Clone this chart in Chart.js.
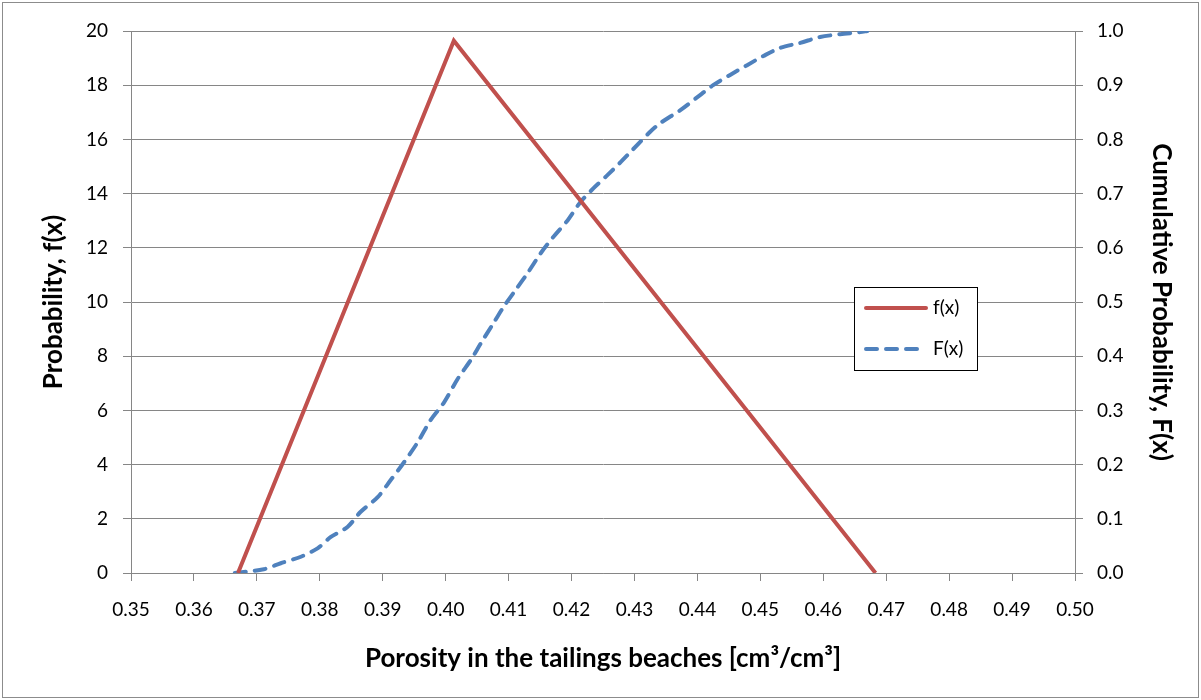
<!DOCTYPE html>
<html>
<head>
<meta charset="utf-8">
<script src="https://cdn.jsdelivr.net/npm/chart.js@4"></script>
<style>
  body { margin: 0; background: #fff; }
  #wrap { width: 1201px; height: 700px; }
</style>
</head>
<body>
<div id="wrap"><canvas id="myChart" width="1201" height="700"></canvas></div>
<script>
// values
const pdfX = [0.3670, 0.4013, 0.4683];
const pdfY = [0, 19.64, 0];

const cdfX = [0.3665, 0.3711, 0.3738, 0.3770, 0.3797, 0.3817, 0.3844, 0.3865, 0.3892, 0.3913,
  0.3933, 0.3956, 0.3976, 0.3997, 0.4019, 0.4040, 0.4056, 0.4076, 0.4092, 0.4111,
  0.4130, 0.4151, 0.4171, 0.4194, 0.4214, 0.4235, 0.4257, 0.4278, 0.4298, 0.4325,
  0.4341, 0.4373, 0.4400, 0.4425, 0.4452, 0.4479, 0.4505, 0.4532, 0.4563, 0.4595,
  0.4627, 0.4659, 0.4670];
const cdfY = [0, 0.007, 0.018, 0.030, 0.046, 0.066, 0.085, 0.113, 0.140, 0.172,
  0.203, 0.242, 0.282, 0.314, 0.358, 0.393, 0.424, 0.461, 0.491, 0.522,
  0.553, 0.590, 0.620, 0.651, 0.684, 0.710, 0.734, 0.758, 0.782, 0.814,
  0.830, 0.854, 0.878, 0.900, 0.919, 0.937, 0.954, 0.969, 0.978, 0.989,
  0.994, 0.998, 1.000];

const seriesNames = ['f(x)', 'F(x)'];
const xTitle = 'Porosity in the tailings beaches [cm\u00B3/cm\u00B3]';
const yTitle = 'Probability, f(x)';
const y1Title = 'Cumulative Probability, F(x)';

const RED = '#C0504D';
const BLUE = '#4F81BD';
const GRID = '#868686';
const FONT = 'Lato, "Open Sans", sans-serif';

const toPts = (xs, ys) => xs.map((x, i) => ({ x: x, y: ys[i] }));

// outer frame + legend box
const extras = {
  id: 'extras',
  afterDraw(chart) {
    const ctx = chart.ctx;
    ctx.save();
    ctx.strokeStyle = '#8c8c8c';
    ctx.lineWidth = 1;
    ctx.strokeRect(2.5, 2.5, chart.width - 5, chart.height - 5);

    // legend
    const lx = 854.5, ly = 287.5, lw = 123, lh = 83;
    ctx.fillStyle = '#fff';
    ctx.fillRect(lx, ly, lw, lh);
    ctx.strokeStyle = '#000';
    ctx.strokeRect(lx, ly, lw, lh);
    ctx.lineWidth = 4;
    ctx.lineCap = 'round';
    ctx.strokeStyle = RED;
    ctx.beginPath(); ctx.moveTo(866, 308); ctx.lineTo(926, 308); ctx.stroke();
    ctx.strokeStyle = BLUE;
    ctx.setLineDash([11, 9]);
    ctx.beginPath(); ctx.moveTo(866, 349); ctx.lineTo(921, 349); ctx.stroke();
    ctx.setLineDash([]);
    ctx.fillStyle = '#000';
    ctx.font = '19px ' + FONT;
    ctx.textBaseline = 'middle';
    ctx.fillText(seriesNames[0], 933, 308);
    ctx.fillText(seriesNames[1], 933, 349);
    ctx.restore();
  }
};

const ctx = document.getElementById('myChart');

new Chart(ctx, {
  type: 'scatter',
  data: {
    datasets: [{
      label: seriesNames[0],
      data: toPts(pdfX, pdfY),
      yAxisID: 'y',
      showLine: true,
      borderColor: RED,
      borderWidth: 4,
      pointRadius: 0,
      tension: 0
    }, {
      label: seriesNames[1],
      data: toPts(cdfX, cdfY),
      yAxisID: 'y1',
      showLine: true,
      borderColor: BLUE,
      borderWidth: 4,
      borderDash: [11, 9],
      borderCapStyle: 'round',
      pointRadius: 0,
      tension: 0.3
    }]
  },
  options: {
    responsive: false,
    animation: false,
    layout: { padding: { top: 31, left: 0, right: 0, bottom: 0 } },
    plugins: {
      legend: { display: false },
      tooltip: { enabled: false }
    },
    scales: {
      x: {
        type: 'linear',
        min: 0.35,
        max: 0.50,
        afterFit(s) { s.height = 127; },
        ticks: {
          stepSize: 0.01,
          color: '#000',
          font: { family: FONT, size: 19 },
          padding: 17,
          maxRotation: 0,
          autoSkip: false,
          callback: v => v.toFixed(2)
        },
        grid: { drawOnChartArea: false, drawTicks: true, tickLength: 8, color: GRID },
        border: { color: GRID },
        title: {
          display: true,
          text: xTitle,
          color: '#000',
          font: { family: FONT, size: 26, weight: 'bold' },
          padding: { top: 0, bottom: 26 }
        }
      },
      y: {
        position: 'left',
        min: 0,
        max: 20,
        afterFit(s) { s.width = 131; },
        ticks: {
          stepSize: 2,
          color: '#000',
          font: { family: FONT, size: 19 },
          padding: 15
        },
        grid: { color: GRID, tickLength: 8 },
        border: { color: GRID },
        title: {
          display: true,
          text: yTitle,
          color: '#000',
          font: { family: FONT, size: 26, weight: 'bold' },
          padding: { top: 38, bottom: 0 }
        }
      },
      y1: {
        position: 'right',
        min: 0,
        max: 1,
        afterFit(s) { s.width = 126; },
        ticks: {
          stepSize: 0.1,
          color: '#000',
          font: { family: FONT, size: 19 },
          padding: 14,
          callback: v => v.toFixed(1)
        },
        grid: { drawOnChartArea: false, color: GRID, tickLength: 8 },
        border: { color: GRID },
        title: {
          display: true,
          text: y1Title,
          color: '#000',
          font: { family: FONT, size: 26, weight: 'bold' },
          padding: { top: 24, bottom: 0 }
        }
      }
    }
  },
  plugins: [extras]
});
</script>
</body>
</html>
